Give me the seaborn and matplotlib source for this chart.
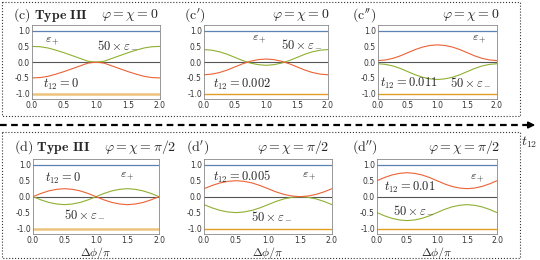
import matplotlib
matplotlib.use("Agg")
import matplotlib.pyplot as plt
import seaborn as sns

# data (x = delta phi / pi)
dphi = [0.0, 0.125, 0.25, 0.375, 0.5, 0.625, 0.75, 0.875, 1.0,
        1.125, 1.25, 1.375, 1.5, 1.625, 1.75, 1.875, 2.0]

eps_plus = 1.0
eps_other = -1.0

# type III, phi = chi = 0
c_green = [0.50, 0.49, 0.45, 0.38, 0.30, 0.21, 0.12, 0.03, 0.0,
           0.03, 0.12, 0.21, 0.30, 0.38, 0.45, 0.49, 0.50]
c_red = [-0.50, -0.49, -0.45, -0.38, -0.30, -0.21, -0.12, -0.03, 0.0,
         -0.03, -0.12, -0.21, -0.30, -0.38, -0.45, -0.49, -0.50]
c1_green = [0.40, 0.38, 0.33, 0.25, 0.15, 0.05, -0.03, -0.08, -0.10,
            -0.08, -0.03, 0.05, 0.15, 0.25, 0.33, 0.38, 0.40]
c1_red = [-0.40, -0.38, -0.33, -0.25, -0.15, -0.05, 0.03, 0.08, 0.10,
          0.08, 0.03, -0.05, -0.15, -0.25, -0.33, -0.38, -0.40]
c2_red = [0.05, 0.07, 0.12, 0.20, 0.30, 0.40, 0.48, 0.53, 0.55,
          0.53, 0.48, 0.40, 0.30, 0.20, 0.12, 0.07, 0.05]
c2_green = [-0.05, -0.07, -0.12, -0.20, -0.30, -0.40, -0.48, -0.53, -0.55,
            -0.53, -0.48, -0.40, -0.30, -0.20, -0.12, -0.07, -0.05]

# type III, phi = chi = pi/2
d_red = [0.0, 0.10, 0.18, 0.23, 0.25, 0.23, 0.18, 0.10, 0.0,
         -0.10, -0.18, -0.23, -0.25, -0.23, -0.18, -0.10, 0.0]
d_green = [0.0, -0.10, -0.18, -0.23, -0.25, -0.23, -0.18, -0.10, 0.0,
           0.10, 0.18, 0.23, 0.25, 0.23, 0.18, 0.10, 0.0]
d1_red = [0.25, 0.35, 0.43, 0.48, 0.50, 0.48, 0.43, 0.35, 0.25,
          0.15, 0.07, 0.02, 0.0, 0.02, 0.07, 0.15, 0.25]
d1_green = [-0.25, -0.35, -0.43, -0.48, -0.50, -0.48, -0.43, -0.35, -0.25,
            -0.15, -0.07, -0.02, 0.0, -0.02, -0.07, -0.15, -0.25]
d2_red = [0.50, 0.60, 0.68, 0.73, 0.75, 0.73, 0.68, 0.60, 0.50,
          0.40, 0.32, 0.27, 0.25, 0.27, 0.32, 0.40, 0.50]
d2_green = [-0.50, -0.60, -0.68, -0.73, -0.75, -0.73, -0.68, -0.60, -0.50,
            -0.40, -0.32, -0.27, -0.25, -0.27, -0.32, -0.40, -0.50]

t12_labels = ["0", "0.002", "0.011", "0", "0.005", "0.01"]
panel_tags = ["(c", "(c'", "(c''", "(d", "(d'", "(d''"]
angle_labels = [r"\varphi=\chi=0"] * 3 + [r"\varphi=\chi=\pi/2"] * 3

BLUE = "#5E81B5"
ORANGE = "#E19C24"
GREEN = "#8FB032"
RED = "#EB6235"

sns.set_theme(style="white")
plt.rcParams["font.family"] = ["DejaVu Sans"]
plt.rcParams["mathtext.fontset"] = "cm"
plt.rcParams["axes.unicode_minus"] = False

fig = plt.figure(figsize=(5.4, 2.6), dpi=100)
W, H = 540.0, 260.0

# axes boxes in pixels: left, right, top, bottom
boxes = [(32, 160, 25, 99), (204, 328, 25, 99), (378, 497, 25, 99),
         (33, 159, 159, 234), (204, 332, 159, 234), (377, 497, 159, 234)]
reds = [c_red, c1_red, c2_red, d_red, d1_red, d2_red]
greens = [c_green, c1_green, c2_green, d_green, d1_green, d2_green]

# annotation spots (data coords): eps+, 50 x eps-, t12
ep_pos = [(0.2, 0.72), (0.78, 0.78), (1.58, 0.78), (1.38, 0.68), (1.53, 0.70), (1.55, 0.62)]
em_pos = [(1.34, 0.56), (1.58, 0.60), (1.56, -0.62), (0.82, -0.52), (1.06, -0.60), (0.62, -0.40)]
t_pos = [(0.17, -0.72), (0.15, -0.72), (0.04, -0.66), (0.19, 0.56), (0.14, 0.62), (0.12, 0.30)]

for i, (l, r, t, b) in enumerate(boxes):
    ax = fig.add_axes([l / W, 1 - b / H, (r - l) / W, (b - t) / H])
    ax.axhline(0, color="#555555", lw=0.8, zorder=1)
    ax.axhline(eps_plus, color=BLUE, lw=0.9)
    if i in (0, 3):
        ax.axhline(eps_other, color=ORANGE, lw=1.8, alpha=0.6)
    else:
        ax.axhline(eps_other, color=ORANGE, lw=1.0)
    sns.lineplot(x=dphi, y=greens[i], color=GREEN, lw=0.8, ax=ax)
    sns.lineplot(x=dphi, y=reds[i], color=RED, lw=0.8, ax=ax)
    ax.set_xlim(0, 2)
    ax.set_ylim(-1.17, 1.18)
    ax.set_xticks([0, 0.5, 1.0, 1.5, 2.0])
    ax.set_yticks([-1.0, -0.5, 0.0, 0.5, 1.0])
    ax.xaxis.set_major_formatter(matplotlib.ticker.FormatStrFormatter("%.1f"))
    ax.yaxis.set_major_formatter(matplotlib.ticker.FormatStrFormatter("%.1f"))
    ax.tick_params(labelsize=5.5, length=2, width=0.4, direction="in",
                   colors="#444444", pad=1.5, labelcolor="#333333")
    for s in ax.spines.values():
        s.set_color("#888888")
        s.set_linewidth(0.6)
    if i >= 3:
        ax.set_xlabel(r"$\Delta\phi/\pi$", fontsize=8.5, labelpad=0)
    ax.text(*ep_pos[i], r"$\varepsilon_+$", fontsize=8.5, ha="left", va="center")
    ax.text(*em_pos[i], r"$50\times\varepsilon_-$", fontsize=9, ha="center", va="center")
    ax.text(*t_pos[i], r"$t_{12}=" + t12_labels[i] + "$", fontsize=9, ha="left", va="center")

# panel titles
title_y = [15, 15, 15, 147, 147, 147]
tag_x = [13, 184, 352, 14, 186, 352]
angle_right = [158, 329, 499, 176, 329, 500]
for i in range(6):
    tag = panel_tags[i]
    txt = r"$\mathrm{" + tag.replace("'", "") + "}" + "'" * tag.count("'") + r"\mathrm{)}$"
    if i in (0, 3):
        txt += r" $\mathbf{Type\ III}$"
    fig.text(tag_x[i] / W, 1 - title_y[i] / H, txt, fontsize=10, ha="left", va="center")
    fig.text(angle_right[i] / W, 1 - title_y[i] / H, "$" + angle_labels[i] + "$",
             fontsize=10, ha="right", va="center")

# dotted frames, dashed arrow along t12
over = fig.add_axes([0, 0, 1, 1])
over.set_xlim(0, W)
over.set_ylim(H, 0)
over.axis("off")
over.patch.set_alpha(0)
for (x0, y0, x1, y1) in [(2, 2, 520, 116), (2, 132, 520, 258)]:
    over.plot([x0, x1, x1, x0, x0], [y0, y0, y1, y1, y0], ls=":", lw=0.8, color="#333333")
over.plot([0, 528], [125, 125], ls=(0, (3, 2)), lw=1.6, color="black")
over.annotate("", xy=(538, 125), xytext=(526, 125),
              arrowprops=dict(arrowstyle="-|>", color="black", lw=1.2, mutation_scale=10))
over.text(529, 142, r"$t_{12}$", fontsize=10, ha="center", va="center")

fig.savefig("out.png", dpi=100)
